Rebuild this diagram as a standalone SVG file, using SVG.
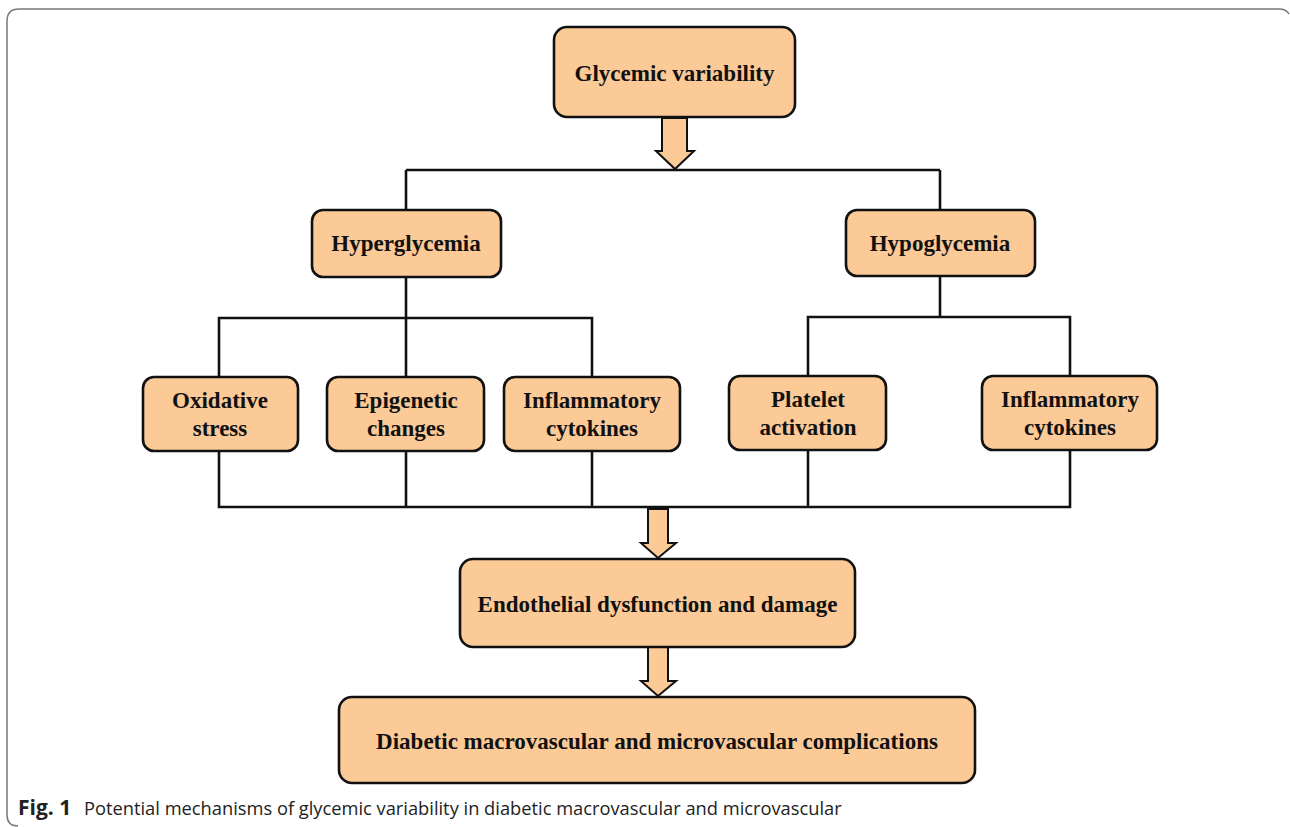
<svg xmlns="http://www.w3.org/2000/svg" width="1290" height="827" viewBox="0 0 1290 827">
<style>
.box{fill:#FBCA97;stroke:#111;stroke-width:2.6}
.t{font-family:"Liberation Serif","Times New Roman",serif;font-weight:bold;font-size:23px;fill:#111;text-anchor:middle}
.ln{fill:none;stroke:#111;stroke-width:2.6}
.arr{fill:#FBCA97;stroke:#111;stroke-width:2;stroke-linejoin:miter}
.cap{font-family:"Open Sans","Noto Sans",sans-serif;font-size:18.3px;fill:#222}
</style>
<rect width="1290" height="827" fill="#fff"/>
<path d="M18,826 Q7,826 7,815 L7,21 Q7,9 19,9 L1279,9 Q1286,9 1289,14" fill="none" stroke="#7a7a7a" stroke-width="1.5"/>
<g id="connectors">
<path class="ln" d="M406,170 H940 M406,170 V210 M940,170 V210"/>
<path class="ln" d="M406,277 V318 M219,377 V318 H592 V377 M406,318 V377"/>
<path class="ln" d="M940,276 V317 M808,376 V317 H1070 V376"/>
<path class="ln" d="M219,451 V507 H1070 V450 M406,451 V507 M592,451 V507 M808,450 V507"/>
<path class="arr" d="M662,118 H687 V151 H694 L675,169 L656,151 H662 Z"/>
<path class="arr" d="M648,509 H668 V543 H676 L658,558 L641,543 H648 Z"/>
<path class="arr" d="M648,647 H668 V681 H676 L658,696 L641,681 H648 Z"/>
</g>
<g id="n-glycemic"><rect class="box" x="554" y="27" width="241" height="90" rx="13"/><text class="t" x="674.5" y="81">Glycemic variability</text></g>
<g id="n-hyper"><rect class="box" x="312" y="210" width="189" height="67" rx="11"/><text class="t" x="406" y="251">Hyperglycemia</text></g>
<g id="n-hypo"><rect class="box" x="846" y="210" width="189" height="66" rx="11"/><text class="t" x="940" y="251">Hypoglycemia</text></g>
<g id="n-oxidative"><rect class="box" x="143" y="377" width="155" height="74" rx="11"/><text class="t" x="220" y="408">Oxidative</text><text class="t" x="220" y="436">stress</text></g>
<g id="n-epigenetic"><rect class="box" x="327" y="377" width="157" height="74" rx="11"/><text class="t" x="406" y="408">Epigenetic</text><text class="t" x="406" y="436">changes</text></g>
<g id="n-inflam1"><rect class="box" x="504" y="377" width="176" height="74" rx="11"/><text class="t" x="592" y="408">Inflammatory</text><text class="t" x="592" y="436">cytokines</text></g>
<g id="n-platelet"><rect class="box" x="729" y="376" width="157" height="74" rx="11"/><text class="t" x="808" y="407">Platelet</text><text class="t" x="808" y="435">activation</text></g>
<g id="n-inflam2"><rect class="box" x="982" y="376" width="175" height="74" rx="11"/><text class="t" x="1070" y="407">Inflammatory</text><text class="t" x="1070" y="435">cytokines</text></g>
<g id="n-endothelial"><rect class="box" x="460" y="559" width="395" height="88" rx="13"/><text class="t" x="657.5" y="612">Endothelial dysfunction and damage</text></g>
<g id="n-diabetic"><rect class="box" x="339" y="697" width="636" height="86" rx="13"/><text class="t" x="657" y="749">Diabetic macrovascular and microvascular complications</text></g>
<text class="cap" x="18" y="815"><tspan font-weight="bold" font-size="21">Fig. 1</tspan><tspan x="84">Potential mechanisms of glycemic variability in diabetic macrovascular and microvascular</tspan></text>
</svg>
